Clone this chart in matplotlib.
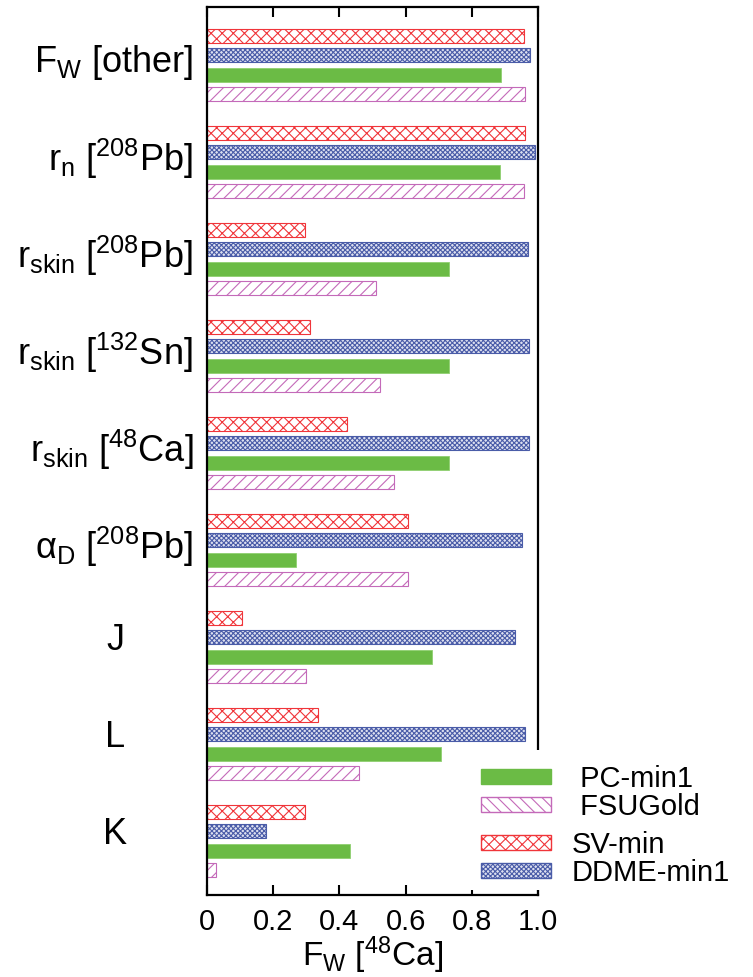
import numpy as np
import matplotlib
matplotlib.use("Agg")
import matplotlib.pyplot as plt
from matplotlib.patches import Patch, Rectangle
from matplotlib.transforms import blended_transform_factory

plt.rcParams['font.family'] = ['Liberation Sans', 'DejaVu Sans']
plt.rcParams['mathtext.fontset'] = 'custom'
plt.rcParams['mathtext.rm'] = 'Liberation Sans'
plt.rcParams['mathtext.it'] = 'Liberation Sans:italic'
plt.rcParams['hatch.linewidth'] = 0.8

# --- data ---
categories = [r'F$_\mathrm{W}$ [other]', r'r$_\mathrm{n}$ [$^\mathrm{208}$Pb]',
              r'r$_\mathrm{skin}$ [$^\mathrm{208}$Pb]', r'r$_\mathrm{skin}$ [$^\mathrm{132}$Sn]',
              r'r$_\mathrm{skin}$ [$^\mathrm{48}$Ca]', r'$\mathrm{\alpha_D}$ [$^\mathrm{208}$Pb]',
              'J', 'L', 'K']
sv_min    = [0.958, 0.961, 0.297, 0.311, 0.423, 0.607, 0.106, 0.336, 0.295]
ddme_min1 = [0.976, 0.991, 0.970, 0.973, 0.973, 0.951, 0.929, 0.960, 0.177]
pc_min1   = [0.888, 0.885, 0.730, 0.731, 0.731, 0.270, 0.681, 0.708, 0.433]
fsugold   = [0.961, 0.958, 0.512, 0.523, 0.566, 0.607, 0.298, 0.460, 0.026]
xticks = [0, 0.2, 0.4, 0.6, 0.8, 1.0]
xticklabels = ['0', '0.2', '0.4', '0.6', '0.8', '1.0']

red = '#f0353a'
blue = '#4a5ca8'
green = '#6bbb45'
mag = '#c46ab9'

fig = plt.figure(figsize=(7.53, 9.77), dpi=100)
ax = fig.add_axes([0.2749, 0.0839, 0.4396, 0.9089])

y = np.arange(len(categories))
h = 0.145
ax.barh(y - 0.3, sv_min, height=h, color='white', edgecolor=red, hatch='xxx', lw=0.8)
ax.barh(y - 0.1, ddme_min1, height=h, color='#dde0f0', edgecolor=blue, hatch='xxxxxxx', lw=0.8)
ax.barh(y + 0.1, pc_min1, height=h, color=green, edgecolor='#8fd070', lw=0.6)
ax.barh(y + 0.3, fsugold, height=h, color='white', edgecolor=mag, hatch='///', lw=0.8)

ax.set_xlim(0, 1.0)
ax.set_ylim(8.557, -0.598)
ax.set_yticks([])
ax.set_xticks(xticks)
ax.set_xticklabels(xticklabels, fontsize=21)
ax.tick_params(axis='x', direction='in', length=7, width=1.5, top=True, pad=9)
for s in ax.spines.values():
    s.set_linewidth(1.6)

ax.set_xlabel(r'F$_\mathrm{W}$ [$^\mathrm{48}$Ca]', fontsize=24, labelpad=-1)

# category labels
trans = blended_transform_factory(ax.transAxes, ax.transData)
for i, lab in enumerate(categories):
    if len(lab) == 1:
        ax.text(-0.278, i - 0.07, lab, transform=trans, ha='center', va='center', fontsize=26)
    else:
        ax.text(-0.042, i - 0.03, lab, transform=trans, ha='right', va='center', fontsize=26)

# white box behind the legend, hiding the right spine as in the original
ax.add_patch(Rectangle((0.624, 0.089), 0.376, 0.1433, transform=fig.transFigure,
                       facecolor='white', edgecolor='none', clip_on=False, zorder=9))

# legends (two blocks like the original)
h1 = [Patch(facecolor=green, edgecolor=green, label=' PC-min1'),
      Patch(facecolor='white', edgecolor=mag, hatch='\\\\\\', label=' FSUGold')]
h2 = [Patch(facecolor='white', edgecolor=red, hatch='xxx', label='SV-min'),
      Patch(facecolor='#dde0f0', edgecolor=blue, hatch='xxxxxxx', label='DDME-min1')]
kw = dict(fontsize=21, handlelength=2.4, handleheight=0.45, labelspacing=0.0,
          handletextpad=0.72, borderpad=0.1, borderaxespad=0, frameon=False,
          bbox_transform=fig.transFigure, loc='upper left')
leg1 = ax.legend(handles=h1, bbox_to_anchor=(0.635, 0.2201), **kw)
ax.add_artist(leg1)
leg2 = ax.legend(handles=h2, bbox_to_anchor=(0.635, 0.1525), **kw)
leg1.set_zorder(10)
leg2.set_zorder(10)

fig.savefig('out.png', dpi=100)
